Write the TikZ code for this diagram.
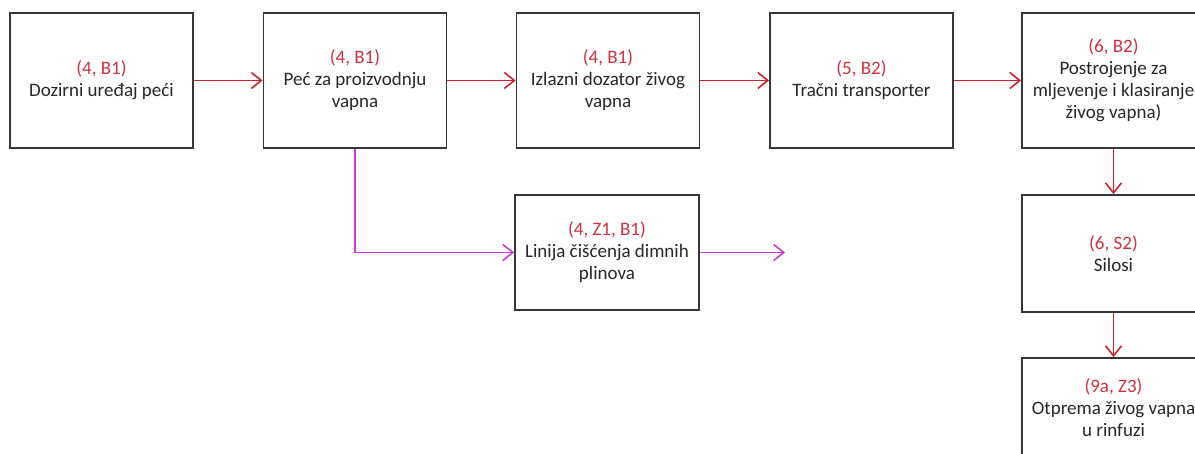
\documentclass[tikz,border=0pt]{standalone}
\usepackage{fontspec}
\setmainfont{Carlito}
\usepackage{tikz}
\usetikzlibrary{arrows.meta}

\definecolor{boxgray}{RGB}{55,55,55}
\definecolor{textgray}{RGB}{40,40,40}
\definecolor{flowred}{RGB}{205,35,45}
\definecolor{labelred}{RGB}{205,50,65}
\definecolor{gasmagenta}{RGB}{205,60,215}

\tikzset{
	unit/.style={draw=boxgray, line width=1.8pt, fill=white, text=textgray, minimum width=183pt, minimum height=135pt, align=center, inner sep=2pt, font=\fontsize{19}{22}\selectfont},
	flow/.style={draw=flowred, line width=1.6pt, -{Straight Barb[length=10pt,width=16pt]}},
	gas/.style={flow, draw=gasmagenta},
}
\newcommand{\oznaka}[1]{\textcolor{labelred}{#1}}

\begin{document}
\begin{tikzpicture}[x=1pt,y=-1pt]
			\clip (0,0) rectangle (1195,453);
			% Nodes
			\foreach \name/\x/\txt in {
				dozirni/101.5/{\oznaka{(4, B1)}\\Dozirni uređaj peći},
				pec/355/{\oznaka{(4, B1)}\\Peć za proizvodnju\\vapna},
				dozator/608/{\oznaka{(4, B1)}\\Izlazni dozator živog\\vapna},
				transporter/861.5/{\oznaka{(5, B2)}\\Tračni transporter},
				postrojenje/1113.5/{\oznaka{(6, B2)}\\Postrojenje za\\mljevenje i klasiranje\\živog vapna)}} {
				\node[unit] (\name) at (\x, 80.5) {\txt};
			}
			\node[unit, minimum width=184pt, minimum height=115pt] (ciscenje) at (607, 252.5) {\oznaka{(4, Z1, B1)}\\Linija čišćenja dimnih\\plinova};
			\node[unit, minimum height=117pt] (silosi) at (1113.5, 253.5) {\oznaka{(6, S2)}\\Silosi};
			\node[unit, minimum height=100pt] (otprema) at (1113.5, 408) {\oznaka{(9a, Z3)}\\Otprema živog vapna\\u rinfuzi};
			\coordinate (izlaz) at (785, 252.5);
			% Arrows
			\draw[flow] (dozirni) -- (pec);
			\draw[flow] (pec) -- (dozator);
			\draw[flow] (dozator) -- (transporter);
			\draw[flow] (transporter) -- (postrojenje);
			\draw[flow] (postrojenje) -- (silosi);
			\draw[flow] (silosi) -- (otprema);
			\draw[gas] (pec.south) |- (ciscenje.west);
			\draw[gas] (ciscenje.east) -- (izlaz);
		\end{tikzpicture}
\end{document}
